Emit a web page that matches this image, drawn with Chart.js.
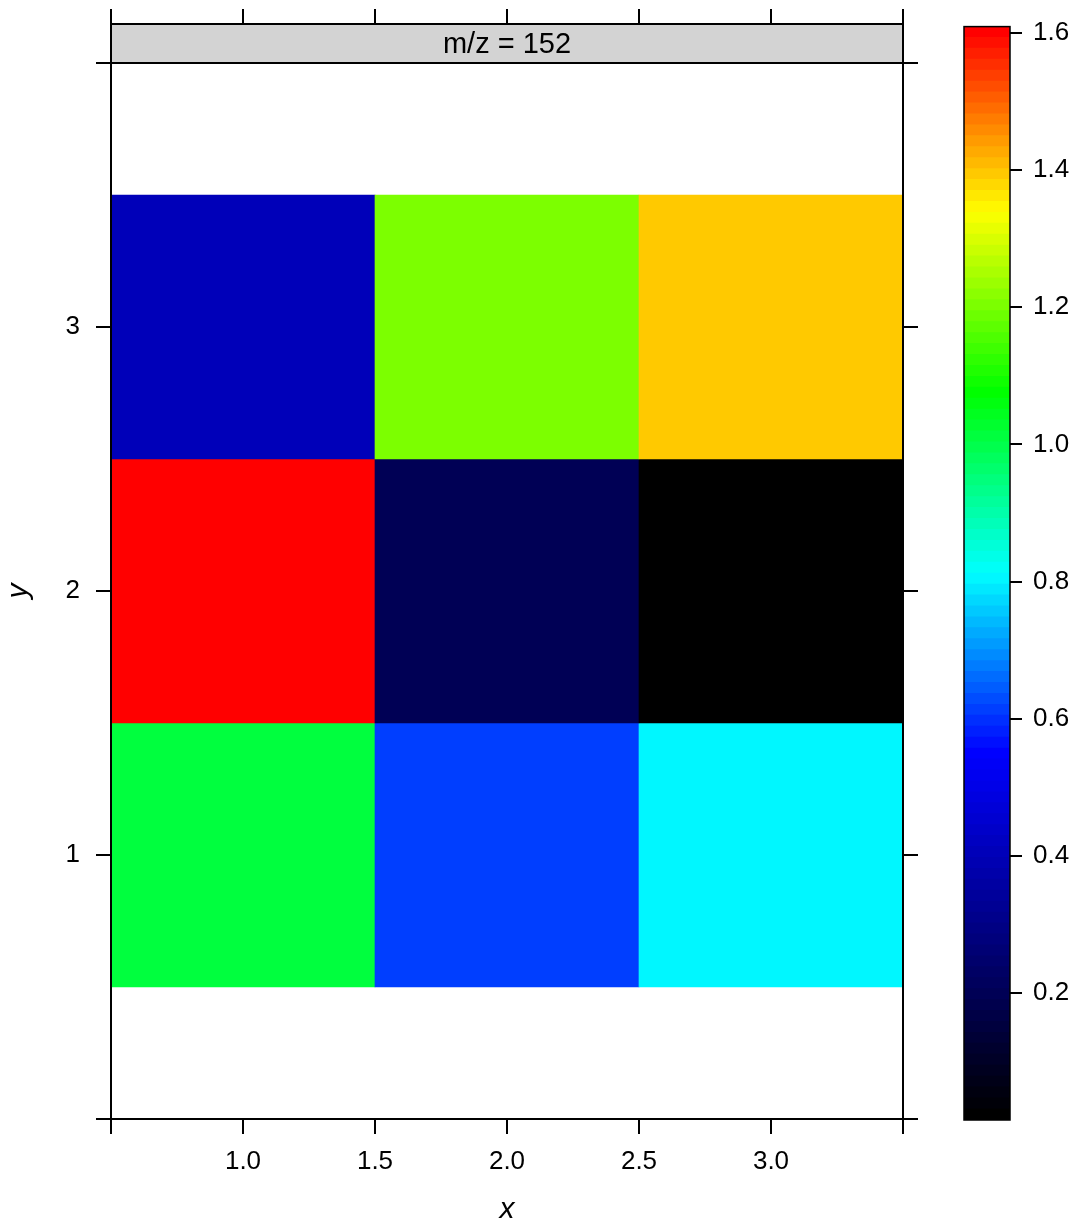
<!DOCTYPE html>
<html>
<head>
<meta charset="utf-8">
<script src="https://cdn.jsdelivr.net/npm/chart.js@4.4.1/dist/chart.umd.min.js"></script>
<style>
  html, body { margin: 0; padding: 0; background: #fff; }
  #wrap { position: relative; width: 1075px; height: 1222px; }
  #plot { position: absolute; left: 0; top: 0; }
  #key { position: absolute; left: 945px; top: 0; }
</style>
</head>
<body>
<div id="wrap">
  <canvas id="plot" width="945" height="1222"></canvas>
  <canvas id="key" width="130" height="1222"></canvas>
</div>
<script>
// pixel grid: x/y positions of the cells
const xValues = [1, 2, 3];
const yValues = [1, 2, 3];
// intensities, one row per y value (left to right = x 1..3)
const intensityY1 = [1.01, 0.61, 0.80];
const intensityY2 = [1.609, 0.20, 0.015];
const intensityY3 = [0.40, 1.21, 1.40];

const xTicks = [0.5, 1.0, 1.5, 2.0, 2.5, 3.0, 3.5];
const xLabeled = [1.0, 1.5, 2.0, 2.5, 3.0];
const yTicks = [0, 1, 2, 3, 4];
const yLabeled = [1, 2, 3];
const keyTicks = [0.2, 0.4, 0.6, 0.8, 1.0, 1.2, 1.4, 1.6];
const stripLabel = 'm/z = 152';

// colour ramp: black -> blue -> cyan -> green -> yellow -> red
const rampStops = [0, 1 / 3, 1 / 2, 2 / 3, 5 / 6, 1];
const rampColors = [[0, 0, 0], [0, 0, 255], [0, 255, 255], [0, 255, 0], [255, 255, 0], [255, 0, 0]];
const levels = 100;

const FONT = '"Liberation Sans", Arial, Helvetica, sans-serif';
const TICK_SIZE = 26;

function ramp(t) {
    let i = 0;
    while (i < rampStops.length - 2 && t > rampStops[i + 1]) i++;
    const f = (t - rampStops[i]) / (rampStops[i + 1] - rampStops[i]);
    const a = rampColors[i], b = rampColors[i + 1];
    const c = a.map((v, j) => Math.round(v + (b[j] - v) * f));
    return `rgb(${c[0]},${c[1]},${c[2]})`;
}

const intensity = [intensityY1, intensityY2, intensityY3];
const allValues = intensity.flat();
const zMin = Math.min(...allValues);
const zMax = Math.max(...allValues);
const step = (zMax - zMin) / levels;
const palette = [];
for (let k = 0; k < levels; k++) palette.push(ramp(k / (levels - 1)));

function levelColor(v) {
    const k = Math.max(0, Math.min(levels - 1, Math.floor((v - zMin) / step)));
    return palette[k];
}

// one floating bar per cell
const cells = [];
yValues.forEach((y, r) => {
    xValues.forEach((x, c) => {
        cells.push({ x: x, y: [y - 0.5, y + 0.5], v: intensity[r][c] });
    });
});

const black = '#000';
const tickFont = { family: FONT, size: TICK_SIZE };

function axisTicks(values) {
    return scale => { scale.ticks = values.map(v => ({ value: v })); };
}

const stripPlugin = {
    id: 'strip',
    afterDraw(chart) {
        const { ctx, chartArea: a } = chart;
        const top = 24;
        ctx.save();
        ctx.fillStyle = '#d3d3d3';
        ctx.fillRect(a.left, top, a.right - a.left, a.top - top);
        ctx.strokeStyle = black;
        ctx.lineWidth = 2;
        ctx.strokeRect(a.left, top, a.right - a.left, a.top - top);
        ctx.fillStyle = black;
        ctx.font = `29px ${FONT}`;
        ctx.textAlign = 'center';
        ctx.textBaseline = 'middle';
        ctx.fillText(stripLabel, (a.left + a.right) / 2, (top + a.top) / 2 + 1);
        ctx.restore();
    }
};

new Chart(document.getElementById('plot'), {
    type: 'bar',
    data: {
        datasets: [{
            xAxisID: 'xc',
            data: cells,
            backgroundColor: ctx => levelColor(ctx.raw.v),
            borderWidth: 0,
            barPercentage: 1,
            categoryPercentage: 1
        }]
    },
    options: {
        responsive: false,
        animation: false,
        layout: { padding: 0 },
        plugins: { legend: { display: false }, tooltip: { enabled: false } },
        scales: {
            xc: {
                type: 'linear', axis: 'x', position: 'bottom', min: 0.5, max: 3.5, offset: false,
                display: false,
                afterBuildTicks: axisTicks(xValues)
            },
            x: {
                type: 'linear', axis: 'x', position: 'bottom', min: 0.5, max: 3.5, offset: false,
                afterBuildTicks: axisTicks(xTicks),
                afterFit: s => { s.height = 103; },
                grid: { drawOnChartArea: false, offset: false, color: black, lineWidth: 2, tickLength: 15 },
                border: { display: true, color: black, width: 2, z: 1 },
                ticks: {
                    color: black, font: tickFont, padding: 12, maxRotation: 0, autoSkip: false,
                    callback: v => xLabeled.includes(v) ? v.toFixed(1) : ''
                },
                title: {
                    display: true, text: 'x', color: black,
                    font: { family: FONT, size: 30, style: 'italic', lineHeight: 0.8 },
                    padding: { top: 0, bottom: 0 }
                }
            },
            x2: {
                type: 'linear', axis: 'x', position: 'top', min: 0.5, max: 3.5, offset: false,
                afterBuildTicks: axisTicks(xTicks),
                afterFit: s => { s.height = 63; },
                grid: { drawOnChartArea: false, offset: false, color: black, lineWidth: 2, tickLength: 54 },
                border: { display: true, color: black, width: 2, z: 1 },
                ticks: { display: false }
            },
            y: {
                type: 'linear', axis: 'y', position: 'left', min: 0, max: 4,
                afterBuildTicks: axisTicks(yTicks),
                afterFit: s => { s.width = 111; },
                grid: { drawOnChartArea: false, color: black, lineWidth: 2, tickLength: 15 },
                border: { display: true, color: black, width: 2, z: 1 },
                ticks: {
                    color: black, font: tickFont, padding: 16, autoSkip: false,
                    callback: v => yLabeled.includes(v) ? String(v) : ''
                },
                title: {
                    display: true, text: 'y', color: black,
                    font: { family: FONT, size: 30, style: 'italic', lineHeight: 1 },
                    padding: { top: 4, bottom: 0 }
                }
            },
            y2: {
                type: 'linear', axis: 'y', position: 'right', min: 0, max: 4,
                afterBuildTicks: axisTicks(yTicks),
                afterFit: s => { s.width = 42; },
                grid: { drawOnChartArea: false, color: black, lineWidth: 2, tickLength: 15 },
                border: { display: true, color: black, width: 2, z: 1 },
                ticks: { display: false }
            }
        }
    },
    plugins: [stripPlugin]
});

// colour key: one floating bar per level
const keyFrame = {
    id: 'keyFrame',
    afterDatasetsDraw(chart) {
        const { ctx, chartArea: a } = chart;
        ctx.save();
        ctx.strokeStyle = black;
        ctx.lineWidth = 1.5;
        ctx.strokeRect(a.left, a.top, a.right - a.left, a.bottom - a.top);
        ctx.restore();
    }
};

new Chart(document.getElementById('key'), {
    type: 'bar',
    data: {
        labels: [''],
        datasets: palette.map((col, k) => ({
            data: [[zMin + k * step, zMin + (k + 1) * step]],
            backgroundColor: col,
            borderWidth: 0,
            inflateAmount: 0.6,
            grouped: false,
            barPercentage: 1,
            categoryPercentage: 1
        }))
    },
    options: {
        responsive: false,
        animation: false,
        layout: { padding: { left: 19, top: 25, bottom: 102, right: 0 } },
        plugins: { legend: { display: false }, tooltip: { enabled: false } },
        scales: {
            x: { display: false },
            y: {
                position: 'right', min: zMin, max: zMax,
                afterBuildTicks: axisTicks(keyTicks),
                afterFit: s => { s.width = 65; },
                grid: { drawOnChartArea: false, color: black, lineWidth: 2, tickLength: 12 },
                border: { display: false },
                ticks: { color: black, font: tickFont, padding: 11, callback: v => v.toFixed(1) }
            }
        }
    },
    plugins: [keyFrame]
});
</script>
</body>
</html>
